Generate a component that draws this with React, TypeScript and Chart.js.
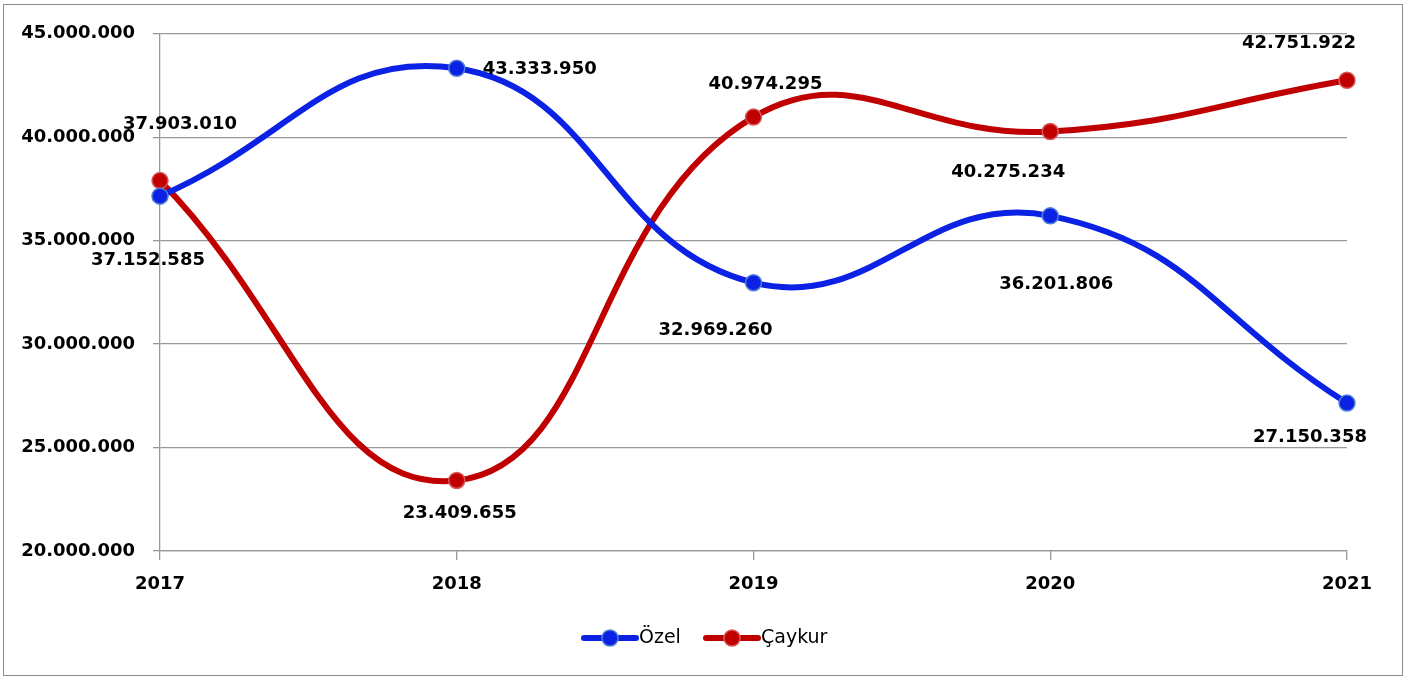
import React, { useEffect, useRef } from "react";
import { Chart, registerables } from "chart.js";

Chart.register(...registerables);

const categories = ["2017", "2018", "2019", "2020", "2021"];
const ozelValues = [37152585, 43333950, 32969260, 36201806, 27150358];
const caykurValues = [37903010, 23409655, 40974295, 40275234, 42751922];
const yTicks = [20000000, 25000000, 30000000, 35000000, 40000000, 45000000];

// label offsets (pixels from point centre)
const ozelLabelOffsets = [[-12, 64], [83, 1], [-38, 48], [6, 69], [-37, 34]];
const caykurLabelOffsets = [[20, -56], [3, 33], [12, -33], [-42, 41], [-48, -37]];

const BLUE = "#0b22e4";
const RED = "#c00000";
const FONT = "'DejaVu Sans', sans-serif";

const fmt = (v: number) => v.toString().replace(/\B(?=(\d{3})+(?!\d))/g, ".");

const labelsPlugin = {
  id: "pointLabels",
  afterDatasetsDraw(chart: any) {
    const ctx = chart.ctx;
    ctx.save();
    ctx.font = `bold 18px ${FONT}`;
    ctx.fillStyle = "#000";
    ctx.textAlign = "center";
    ctx.textBaseline = "middle";
    const offs = [ozelLabelOffsets, caykurLabelOffsets];
    chart.data.datasets.forEach((ds: any, di: number) => {
      const meta = chart.getDatasetMeta(di);
      meta.data.forEach((pt: any, i: number) => {
        const [dx, dy] = offs[di][i];
        ctx.fillText(fmt(ds.data[i]), pt.x + dx, pt.y + dy);
      });
    });
    ctx.restore();
  },
};

const legendPlugin = {
  id: "customLegend",
  afterDraw(chart: any) {
    const ctx = chart.ctx;
    ctx.save();
    const y = chart.chartArea.bottom + 87;
    const items = [
      { text: "Özel", color: BLUE, border: "#4f7fd6", x: 577 },
      { text: "Çaykur", color: RED, border: "#d65a5a", x: 699 },
    ];
    ctx.font = `19px ${FONT}`;
    ctx.textBaseline = "middle";
    ctx.textAlign = "left";
    items.forEach((it) => {
      ctx.strokeStyle = it.color;
      ctx.lineWidth = 6;
      ctx.lineCap = "round";
      ctx.beginPath();
      ctx.moveTo(it.x + 3, y);
      ctx.lineTo(it.x + 55, y);
      ctx.stroke();
      ctx.beginPath();
      ctx.arc(it.x + 29, y, 8, 0, Math.PI * 2);
      ctx.fillStyle = it.color;
      ctx.fill();
      ctx.lineWidth = 1.5;
      ctx.strokeStyle = it.border;
      ctx.stroke();
      ctx.fillStyle = "#000";
      ctx.fillText(it.text, it.x + 58, y);
    });
    ctx.restore();
  },
};

export default function App() {
  const ref = useRef<HTMLCanvasElement>(null);
  useEffect(() => {
    if (!ref.current) return;
    const chart = new Chart(ref.current, {
      type: "line",
      data: {
        labels: categories,
        datasets: [
          {
            label: "Özel",
            data: ozelValues,
            borderColor: BLUE,
            backgroundColor: BLUE,
            borderWidth: 6,
            tension: 0.45,
            pointRadius: 8,
            pointBorderWidth: 1.5,
            pointBackgroundColor: BLUE,
            pointBorderColor: "#4f7fd6",
            borderCapStyle: "round",
          },
          {
            label: "Çaykur",
            data: caykurValues,
            borderColor: RED,
            backgroundColor: RED,
            borderWidth: 6,
            tension: 0.45,
            pointRadius: 8,
            pointBorderWidth: 1.5,
            pointBackgroundColor: RED,
            pointBorderColor: "#d65a5a",
            borderCapStyle: "round",
          },
        ],
      },
      options: {
        animation: false,
        responsive: false,
        maintainAspectRatio: false,
        layout: { padding: { left: 0, right: 55, top: 28, bottom: 80 } },
        plugins: { legend: { display: false }, tooltip: { enabled: false } },
        elements: { line: { capBezierPoints: false } },
        scales: {
          x: {
            offset: false,
            grid: {
              display: true,
              drawOnChartArea: false,
              drawTicks: true,
              tickLength: 9,
              color: "#999",
              lineWidth: 1.3,
            },
            border: { display: true, color: "#999", width: 1.3 },
            ticks: {
              color: "#000",
              font: { family: FONT, size: 18, weight: "bold" },
              padding: 14,
              maxRotation: 0,
            },
            afterFit: (s: any) => {
              s.height = 44;
            },
          },
          y: {
            min: 20000000,
            max: 45000000,
            afterBuildTicks: (s: any) => {
              s.ticks = yTicks.map((v) => ({ value: v }));
            },
            grid: {
              color: "#999",
              lineWidth: 1.3,
              tickLength: 7,
            },
            border: { display: true, color: "#999", width: 1.3 },
            ticks: {
              color: "#000",
              font: { family: FONT, size: 18, weight: "bold" },
              padding: 18,
              callback: (v: any) => fmt(Number(v)),
            },
            afterFit: (s: any) => {
              s.width = 156;
            },
          },
        },
      },
      plugins: [labelsPlugin, legendPlugin],
    });
    return () => chart.destroy();
  }, []);

  return (
    <div
      style={{
        position: "absolute",
        left: 3,
        top: 4,
        width: 1398,
        height: 670,
        border: "1px solid #8c8c8c",
        background: "#fff",
      }}
    >
      <canvas ref={ref} width={1398} height={670} style={{ display: "block" }} />
    </div>
  );
}
